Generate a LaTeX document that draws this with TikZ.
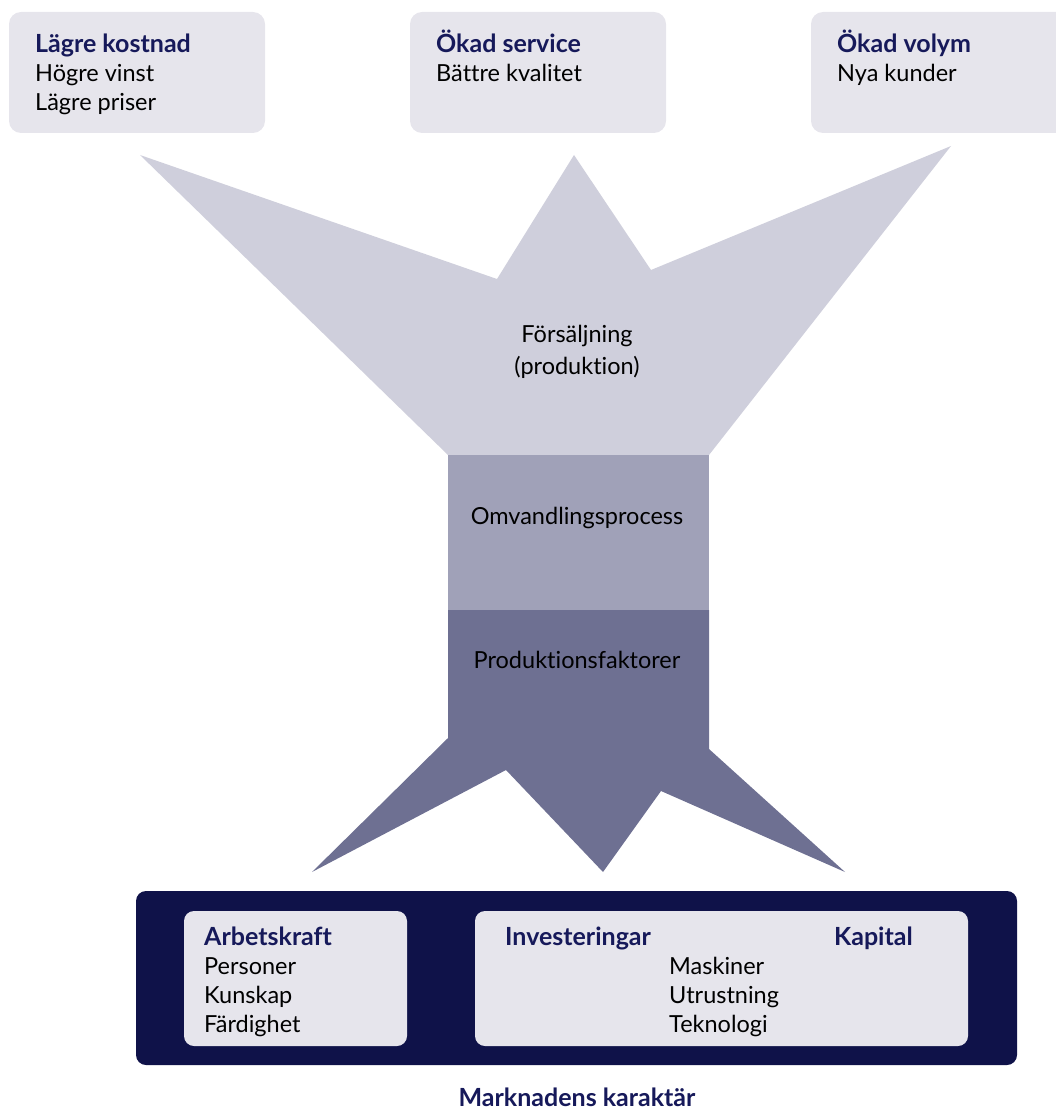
\documentclass[tikz,border=0pt]{standalone}
\usepackage{fontspec}
\setmainfont{Lato}[Ligatures=NoCommon]
\definecolor{boxbg}{HTML}{E6E5EC}
\definecolor{topshape}{HTML}{CFCFDC}
\definecolor{midrect}{HTML}{A0A1B8}
\definecolor{lowshape}{HTML}{6E7092}
\definecolor{navy}{HTML}{0F1249}
\definecolor{navytext}{HTML}{16195A}
\begin{document}
\begin{tikzpicture}[x=1pt,y=-1pt,
  lbox/.style={fill=boxbg,rounded corners=12pt},
  hd/.style={anchor=base west,inner sep=0pt,font=\fontsize{25}{29}\selectfont\bfseries,text=navytext},
  tx/.style={anchor=base west,inner sep=0pt,font=\fontsize{23.5}{29}\selectfont,text=black},
  ctx/.style={inner sep=0pt,font=\fontsize{23.5}{32}\selectfont,text=black,align=center}]
\useasboundingbox (0,0) rectangle (1055,1115);
% top boxes
\fill[lbox] (9,12) rectangle (265,133);
\fill[lbox] (410,12) rectangle (666,133);
\fill[lbox] (811,12) rectangle (1075,133);
\node[hd] (t1h) at (35,53) {Lägre kostnad};
\node[tx] (t1a) at (35,82) {Högre vinst};
\node[tx] (t1b) at (35,111) {Lägre priser};
\node[hd] (t2h) at (436,53) {Ökad service};
\node[tx] (t2a) at (436,82) {Bättre kvalitet};
\node[hd] (t3h) at (837,53) {Ökad volym};
\node[tx] (t3a) at (837,82) {Nya kunder};
% top funnel shape
\fill[topshape] (140,155) -- (497,279) -- (574,155) -- (651,270) -- (951,146) -- (709,455) -- (448,455) -- cycle;
\node[ctx] (sales) at (577,352) {Försäljning\\(produktion)};
% middle rect
\fill[midrect] (448,455) rectangle (709,610);
\node[ctx] (omv) at (577,518) {Omvandlingsprocess};
% lower shape
\fill[lowshape] (448,610) -- (709,610) -- (709,749) -- (845,872) -- (661,791) -- (603,872) -- (506,770) -- (312,872) -- (448,738) -- cycle;
\node[ctx] (prod) at (577,660) {Produktionsfaktorer};
% bottom box
\fill[navy,rounded corners=10pt] (136,891) rectangle (1017,1065);
\fill[boxbg,rounded corners=10pt] (184,911) rectangle (407,1046);
\fill[boxbg,rounded corners=10pt] (475,911) rectangle (968,1046);
\node[hd] (b1h) at (204,945) {Arbetskraft};
\node[tx] (b1a) at (204,974) {Personer};
\node[tx] (b1b) at (204,1003) {Kunskap};
\node[tx] (b1c) at (204,1032) {Färdighet};
\node[hd] (b2h) at (505,945) {Investeringar};
\node[hd] (b2k) at (834,945) {Kapital};
\node[tx] (b2a) at (669,974) {Maskiner};
\node[tx] (b2b) at (669,1003) {Utrustning};
\node[tx] (b2c) at (669,1032) {Teknologi};
\node[hd,anchor=base] (mk) at (577,1106) {Marknadens karaktär};
\end{tikzpicture}
\end{document}
